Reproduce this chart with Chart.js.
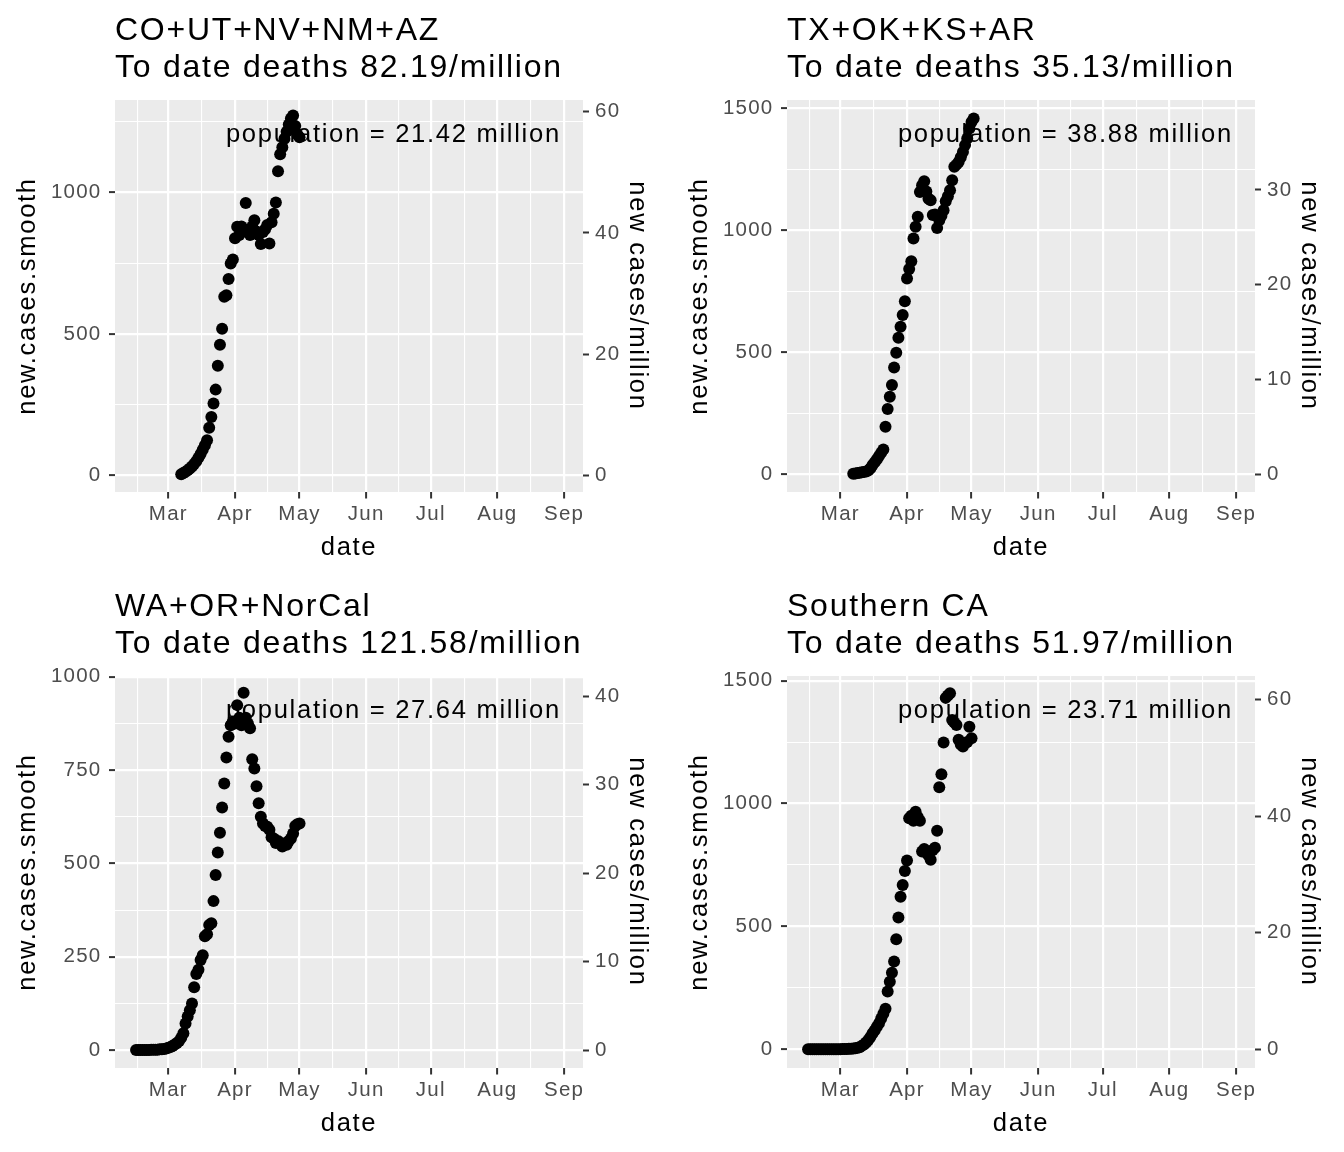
<!DOCTYPE html>
<html>
<head>
<meta charset="utf-8">
<script src="https://cdn.jsdelivr.net/npm/chart.js@4.4.1/dist/chart.umd.min.js"></script>
<style>
html, body { margin: 0; padding: 0; background: #fff; }
#wrap { display: grid; grid-template-columns: 672px 672px; grid-template-rows: 576px 576px; width: 1344px; height: 1152px; }
canvas { display: block; }
</style>
</head>
<body>
<div id="wrap">
  <canvas id="c0" width="672" height="576"></canvas>
  <canvas id="c1" width="672" height="576"></canvas>
  <canvas id="c2" width="672" height="576"></canvas>
  <canvas id="c3" width="672" height="576"></canvas>
</div>
<script>
// days are counted from 1 Mar 2020 (day 0)
var monthDays = [0, 31, 61, 92, 122, 153, 184];
var monthLabels = ['Mar', 'Apr', 'May', 'Jun', 'Jul', 'Aug', 'Sep'];
var minorDays = [-14.5, 15.5, 46, 76.5, 107, 137.5, 168.5];
var xRange = [-24.8, 192.8];

var regions = ['CO+UT+NV+NM+AZ', 'TX+OK+KS+AR', 'WA+OR+NorCal', 'Southern CA'];
var deathsPerMillion = ['82.19', '35.13', '121.58', '51.97'];
var population = ['21.42', '38.88', '27.64', '23.71'];
// millions used by the right-hand axis as it is drawn
var secAxisDivisor = [21.42, 38.88, 23.71, 23.71];
var firstDay = [6, 6, -15, -15];

var casesCO = [4, 8, 13, 18, 24, 31, 40, 50, 62, 75, 90, 106, 124,
  168, 206, 254, 303, 387, 462, 518, 631, 637, 694, 749, 763, 838, 879,
  850, 880, 870, 963, 860, 850, 880, 902, 862, 850, 818, 860, 870, 885, 820,
  895, 925, 965, 1075, 1135, 1160, 1190, 1215, 1240, 1262, 1272, 1235, 1205, 1195];
var casesTX = [2, 3, 5, 6, 8, 10, 12, 16, 25, 38, 50, 62, 75, 88, 102,
  195, 268, 318, 366, 438, 499, 560, 605, 653, 710, 803, 842, 874, 967, 1015,
  1056, 1158, 1185, 1202, 1160, 1130, 1124, 1063, 1065, 1010, 1042, 1060, 1083,
  1120, 1140, 1165, 1206, 1261, 1270, 1281, 1300, 1322, 1350, 1377, 1418, 1445, 1459];
var casesWA = [0, 0, 0, 0, 0, 0, 0, 1, 1, 1, 1, 2, 2, 3, 4,
  6, 8, 11, 15, 19, 24, 33, 45, 71, 90, 107, 125, 168, 204, 215, 241, 254, 305,
  310, 335, 340, 399, 469, 529, 582, 650, 714, 784, 839, 870, 880, 875, 924, 890,
  870, 957, 890, 875, 862, 779, 754, 707, 661, 625, 607, 600, 598, 590, 570, 567,
  555, 560, 554, 545, 554, 550, 560, 567, 580, 600, 605, 607];
var casesSoCal = [0, 0, 0, 0, 0, 0, 0, 0, 0, 0, 0, 0, 0, 0, 0,
  0, 1, 1, 1, 2, 2, 3, 4, 6,
  8, 14, 20, 28, 38, 50, 65, 78, 92, 106, 125, 145, 165,
  235, 275, 312, 357, 448, 536, 621, 669, 726, 768,
  940, 950, 930, 967, 945, 930, 805, 815, 800, 790, 771, 811, 820, 889, 1066,
  1119, 1248, 1430, 1440, 1449, 1340, 1330, 1320, 1260, 1240, 1232, 1245, 1250, 1313, 1266];
var series = [casesCO, casesTX, casesWA, casesSoCal];

var yRange = [[-59, 1327], [-72.5, 1535], [-48, 1002], [-76, 1519]];
var yMajor = [[0, 500, 1000], [0, 500, 1000, 1500], [0, 250, 500, 750, 1000], [0, 500, 1000, 1500]];
var yMinor = [[250, 750, 1250], [250, 750, 1250], [125, 375, 625, 875], [250, 750, 1250]];
var secTicks = [[0, 20, 40, 60], [0, 10, 20, 30], [0, 10, 20, 30, 40], [0, 20, 40, 60]];

var FONT = "'Liberation Sans', Arial, Helvetica, sans-serif";
Chart.defaults.font.family = FONT;
Chart.defaults.color = '#000';

// the reference text is set a little wider than plain Arial
function spreadText(chart) {
    var ctx = chart.ctx;
    if (ctx.__spread) return;
    ctx.__spread = true;
    var fill = ctx.fillText;
    ctx.fillText = function(text, x, y, maxWidth) {
        var m = /([\d.]+)px/.exec(this.font);
        var size = m ? parseFloat(m[1]) : 12;
        var k = size >= 28 ? 0.055 : (size >= 24 ? 0.066 : 0.06);
        this.letterSpacing = (size * k).toFixed(2) + 'px';
        if (maxWidth === undefined) return fill.call(this, text, x, y);
        return fill.call(this, text, x, y, maxWidth);
    };
}

function isMajorIn(list, v) {
    return list.indexOf(v) >= 0;
}

function makeChart(k) {
    var pts = series[k].map(function(v, i) {
        return {x: firstDay[k] + i, y: v};
    });
    var div = secAxisDivisor[k];
    var popText = 'population = ' + population[k] + ' million';

    var panel = {
        id: 'panel',
        beforeDraw: function(chart) {
            spreadText(chart);
            var a = chart.chartArea, ctx = chart.ctx;
            ctx.save();
            ctx.fillStyle = '#EBEBEB';
            ctx.fillRect(a.left, a.top, a.right - a.left, a.bottom - a.top);
            ctx.restore();
        },
        afterDatasetsDraw: function(chart) {
            var ctx = chart.ctx;
            ctx.save();
            ctx.font = '25.6px ' + FONT;
            ctx.fillStyle = '#000';
            ctx.textAlign = 'right';
            ctx.textBaseline = 'alphabetic';
            ctx.fillText(popText, chart.scales.x.getPixelForValue(182.5), chart.chartArea.top + 41.7);
            ctx.restore();
        }
    };

    return new Chart(document.getElementById('c' + k), {
        type: 'scatter',
        data: {
            datasets: [{
                data: pts,
                backgroundColor: '#000',
                borderWidth: 0,
                pointRadius: 6,
                pointHoverRadius: 6
            }]
        },
        plugins: [panel],
        options: {
            responsive: false,
            animation: false,
            layout: {padding: 0},
            plugins: {
                legend: {display: false},
                tooltip: {enabled: false},
                title: {
                    display: true,
                    text: [regions[k], 'To date deaths ' + deathsPerMillion[k] + '/million'],
                    align: 'start',
                    fullSize: false,
                    color: '#000',
                    font: {size: 32, weight: 'normal', lineHeight: 1.147},
                    padding: {top: 13.3, bottom: 13.3}
                }
            },
            scales: {
                x: {
                    type: 'linear',
                    min: xRange[0],
                    max: xRange[1],
                    afterBuildTicks: function(s) {
                        s.ticks = monthDays.concat(minorDays).sort(function(a, b) { return a - b; })
                            .map(function(v) { return {value: v}; });
                    },
                    afterFit: function(s) { s.height = 84; },
                    border: {display: false},
                    grid: {
                        color: '#fff',
                        lineWidth: function(c) { return isMajorIn(monthDays, c.tick.value) ? 2.2 : 1.1; },
                        tickColor: function(c) { return isMajorIn(monthDays, c.tick.value) ? '#333' : 'rgba(0,0,0,0)'; },
                        tickLength: 6.5,
                        tickWidth: 2
                    },
                    ticks: {
                        autoSkip: false,
                        maxRotation: 0,
                        color: '#4D4D4D',
                        font: {size: 20.5},
                        padding: 3.7,
                        callback: function(v) {
                            var i = monthDays.indexOf(v);
                            return i >= 0 ? monthLabels[i] : '';
                        }
                    },
                    title: {
                        display: true,
                        text: 'date',
                        color: '#000',
                        font: {size: 25.6},
                        padding: {top: 0, bottom: 13}
                    }
                },
                y: {
                    position: 'left',
                    min: yRange[k][0],
                    max: yRange[k][1],
                    afterBuildTicks: function(s) {
                        s.ticks = yMajor[k].concat(yMinor[k]).sort(function(a, b) { return a - b; })
                            .map(function(v) { return {value: v}; });
                    },
                    afterFit: function(s) { s.width = 115; },
                    border: {display: false},
                    grid: {
                        color: '#fff',
                        lineWidth: function(c) { return isMajorIn(yMajor[k], c.tick.value) ? 2.2 : 1.1; },
                        tickColor: function(c) { return isMajorIn(yMajor[k], c.tick.value) ? '#333' : 'rgba(0,0,0,0)'; },
                        tickLength: 6,
                        tickWidth: 2
                    },
                    ticks: {
                        color: '#4D4D4D',
                        font: {size: 20.5},
                        padding: 7.5,
                        callback: function(v) {
                            return isMajorIn(yMajor[k], v) ? String(v) : '';
                        }
                    },
                    title: {
                        display: true,
                        text: 'new.cases.smooth',
                        color: '#000',
                        font: {size: 25.6},
                        padding: {top: 13, bottom: 0}
                    }
                },
                y2: {
                    position: 'right',
                    min: yRange[k][0] / div,
                    max: yRange[k][1] / div,
                    afterBuildTicks: function(s) {
                        s.ticks = secTicks[k].map(function(v) { return {value: v}; });
                    },
                    afterFit: function(s) { s.width = 89; },
                    border: {display: false},
                    grid: {
                        drawOnChartArea: false,
                        tickColor: '#333',
                        tickLength: 6,
                        tickWidth: 2
                    },
                    ticks: {
                        color: '#4D4D4D',
                        font: {size: 20.5},
                        padding: 6,
                        callback: function(v) { return String(v); }
                    },
                    title: {
                        display: true,
                        text: 'new cases/million',
                        color: '#000',
                        font: {size: 25.6},
                        padding: {top: 20, bottom: 0}
                    }
                }
            }
        }
    });
}

for (var k = 0; k < 4; k++) {
    makeChart(k);
}
</script>
</body>
</html>
